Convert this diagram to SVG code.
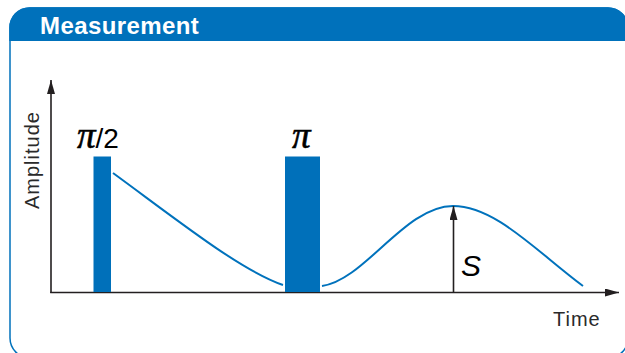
<svg xmlns="http://www.w3.org/2000/svg" width="625" height="353" viewBox="0 0 625 353">
<defs>
<style>
.frame{fill:#fff;stroke:#0072bc;stroke-width:1.5}
.hdr{fill:#0071bb}
.hdrtxt{font-family:"Liberation Sans",Arial,sans-serif;font-weight:bold;font-size:24px;fill:#fff;letter-spacing:0.4px}
.axis{stroke:#231f20;stroke-width:1.6;fill:none}
.sig{stroke:#0072bc;stroke-width:2;fill:none}
.pulse{fill:#0070ba}
.lbl{font-family:"Liberation Sans",Arial,sans-serif;font-size:20px;fill:#2a2a2a;letter-spacing:1px}
.pi{font-family:"Liberation Serif","Times New Roman",serif;font-style:italic;font-size:37px;fill:#000;stroke:#000;stroke-width:0.6}
.frac{font-family:"Liberation Sans",Arial,sans-serif;font-size:28px;fill:#000}
.s{font-family:"Liberation Sans",Arial,sans-serif;font-style:italic;font-size:30px;fill:#000}
</style>
<marker id="ah" viewBox="0 0 14 8" refX="14" refY="4" markerWidth="14" markerHeight="8" markerUnits="userSpaceOnUse" orient="auto">
<path d="M0,0 L14,4 L0,8 Z" fill="#231f20"/>
</marker>
</defs>
<g id="frame">
<rect class="frame" x="10" y="8" width="618" height="350" rx="20" ry="20"/>
<path class="hdr" d="M9.25,41 L9.25,28 A20,20 0 0 1 29.25,7.25 L608,7.25 A20,20 0 0 1 628,27.25 L628,41 Z"/>
<text class="hdrtxt" x="40" y="34">Measurement</text>
</g>
<g id="axes">
<line class="axis" x1="51" y1="293" x2="51" y2="80" marker-end="url(#ah)"/>
<line class="axis" x1="50.2" y1="292.5" x2="619" y2="292.5" marker-end="url(#ah)"/>
<text class="lbl" transform="translate(39,209) rotate(-90)">Amplitude</text>
<text class="lbl" x="553" y="326">Time</text>
</g>
<g id="pulse1">
<rect class="pulse" x="93.5" y="156.5" width="17.5" height="135.5"/>
<text x="77" y="148"><tspan class="pi">π</tspan><tspan class="frac">/2</tspan></text>
</g>
<g id="pulse2">
<rect class="pulse" x="285" y="156.5" width="35" height="135.5"/>
<text class="pi" x="292" y="148">π</text>
</g>
<g id="connectors">
<path class="sig" d="M113,173 C180,222 240,270 283,285"/>
<path class="sig" d="M322,286 C365,280 405,206 453,206 C495,206 535,250 583,286"/>
<line class="axis" x1="453.5" y1="292" x2="453.5" y2="206" marker-end="url(#ah)"/>
<text class="s" x="461" y="276">S</text>
</g>
</svg>
